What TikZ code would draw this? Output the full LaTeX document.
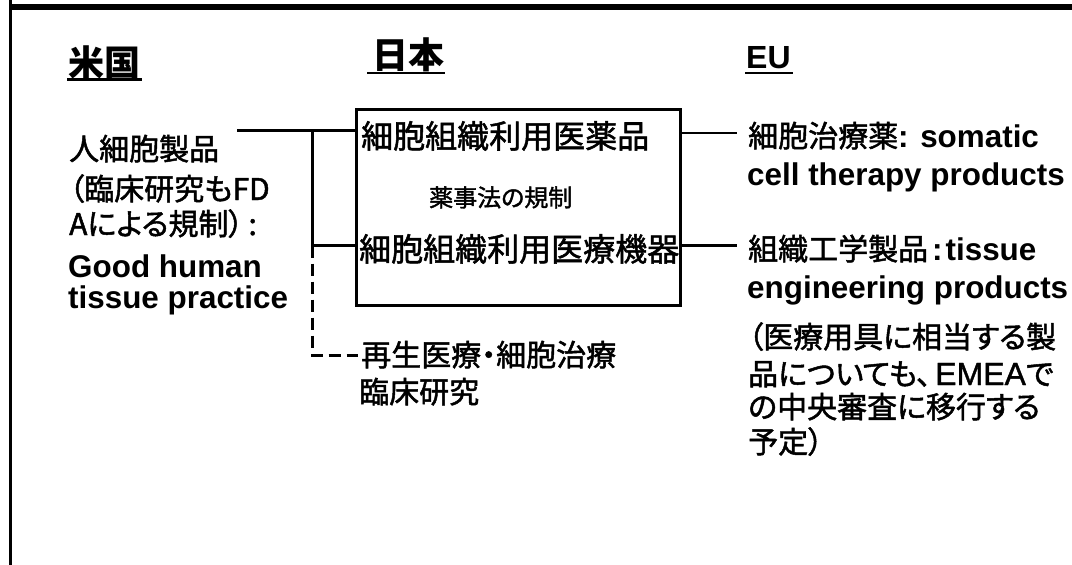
\documentclass[tikz,border=0pt]{standalone}
\usepackage{fontspec}
\setmainfont{Liberation Sans}
\newfontfamily\jp[RawFeature=+palt, FakeBold=1.6]{Noto Sans CJK JP}
\newfontfamily\jph[RawFeature=+palt]{Noto Sans CJK JP}
\newfontfamily\lat[FakeBold=1.2]{Liberation Sans}
\newcommand\enb{\rmfamily\bfseries\fontsize{31.4}{36}\selectfont}
\begin{document}
\begin{tikzpicture}[x=1pt,y=-1pt,
  jpbody/.style={anchor=base west, inner sep=0pt, font=\jp\fontsize{30}{36}\selectfont},
  enbody/.style={anchor=base west, inner sep=0pt, font=\enb},
  boxtxt/.style={anchor=base west, inner sep=0pt, font=\jp\fontsize{32}{36}\selectfont},
  smalltxt/.style={anchor=base west, inner sep=0pt, font=\jp\fontsize{24}{28}\selectfont},
  headjp/.style={anchor=base west, inner sep=0pt, font=\jph\bfseries\fontsize{36}{40}\selectfont},
  headen/.style={anchor=base west, inner sep=0pt, font=\rmfamily\bfseries\fontsize{32}{36}\selectfont},
  conn/.style={line width=3pt},
  dconn/.style={line width=3pt, dash pattern=on 12pt off 6pt},
  uline/.style={line width=2.5pt},
  frame/.style={line width=6pt},
  regbox/.style={draw, line width=3pt, minimum width=324pt, minimum height=195.5pt, inner sep=0pt}
]
\useasboundingbox (0,0) rectangle (1072,565);
\fill[white] (0,0) rectangle (1072,565);

% frame
\coordinate (FTL) at (10,7);
\coordinate (FTR) at (1072,7);
\coordinate (FL0) at (10.5,0);
\coordinate (FL1) at (10.5,565);
\draw[frame] (FTL) -- (FTR);
\draw[line width=2.5pt] (FL0) -- (FL1);

% headings
\node[headjp] (us) at (68,76) {米国};
\node[headjp] (ja) at (372,68) {日本};
\node[headen] (eu) at (746,68) {EU};
\draw[uline] ([xshift=-1pt,yshift=-3.5pt]us.base west) -- ([xshift=2pt,yshift=-3.5pt]us.base east);
\draw[uline] ([xshift=-5pt,yshift=-5pt]ja.base west) -- ([xshift=1pt,yshift=-5pt]ja.base east);
\draw[uline] ([xshift=-1pt,yshift=-5pt]eu.base west) -- ([xshift=2pt,yshift=-5pt]eu.base east);

% central box
\node[regbox] (bx) at (518.5,207.25) {};
\node[boxtxt] (b1) at (361,148) {細胞組織利用医薬品};
\node[smalltxt] (b2) at (429,206.5) {薬事法の規制};
\node[boxtxt] (b3) at (359,261) {細胞組織利用医療機器};

% left column
\node[jpbody] (l1) at (69,160) {人細胞製品};
\node[jpbody] (l2) at (69,200) {（臨床研究もFD};
\node[jpbody] (l3) at (69,235) {Aによる規制）\,:};
\node[enbody] (l4) at (68,277) {Good human};
\node[enbody] (l5) at (68,308) {tissue practice};

% right column
\node[jpbody] (r1) at (748,147) {細胞治療薬{\enb: somatic}};
\node[enbody] (r2) at (747,185) {cell therapy products};
\node[jpbody] (r3) at (748,260) {組織工学製品{\enb\hspace{4pt}:\hspace{3pt}tissue}};
\node[enbody] (r4) at (747,298) {engineering products};
\node[jpbody] (r5) at (748,348) {（医療用具に相当する製};
\node[jpbody] (r6) at (748,385) {品についても、\hspace{4pt}{\lat\fontsize{32}{36}\selectfont EMEA}で};
\node[jpbody] (r7) at (748,418) {の中央審査に移行する};
\node[jpbody] (r8) at (748,453) {予定）};

% lower text
\node[jpbody] (g1) at (361,366) {再生医療・細胞治療};
\node[jpbody] (g2) at (359,403) {臨床研究};

% left connectors
\coordinate (L1) at (237,130);
\coordinate (J1) at (312,130);
\coordinate (J2) at (312,245.5);
\coordinate (J3) at (312,355);
\coordinate (J4) at (358,355);
\draw[conn] (L1) -- (bx.west |- L1);
\draw[conn] (J1) -- (J2) -- (bx.west |- J2);
\draw[dconn] (J2) -- (J3) -- (J4);

% right connectors
\coordinate (R1) at (737,133);
\coordinate (R2) at (737,245.5);
\draw[line width=2.5pt] (bx.east |- R1) -- (R1);
\draw[line width=2.5pt] (bx.east |- R2) -- (R2);
\end{tikzpicture}
\end{document}
